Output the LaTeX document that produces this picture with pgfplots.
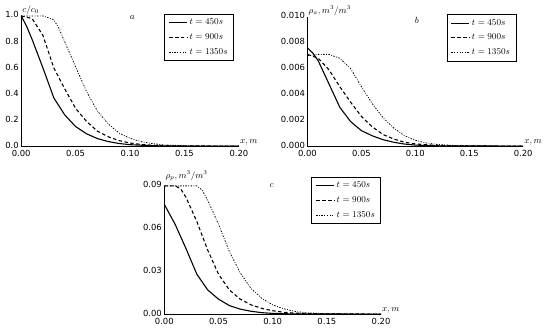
\documentclass[border=0pt]{standalone}
\usepackage{pgfplots}
\pgfplotsset{compat=1.18}
\usepackage{fontspec}
\setsansfont{DejaVu Sans}
\begin{document}
\pgfplotsset{
  panel/.style={
    scale only axis,
    width=218bp, height=130bp,
    axis lines*=left,
    xmin=0, xmax=0.2,
    xtick={0,0.05,0.1,0.15,0.2},
    tick label style={font=\sffamily\fontsize{8.5}{9}\selectfont},
    /pgf/number format/assume math mode=true,
    /pgf/number format/.cd, fixed, fixed zerofill, precision=2, /pgfplots/.cd,
    major tick length=0pt,
    xticklabel style={yshift=-0.5bp},
    yticklabel style={xshift=1bp, yshift=1bp},
    axis line style={line width=0.6pt},
    legend style={draw=black, line width=0.6pt, font=\fontsize{9}{9}\selectfont,
      inner xsep=4bp, inner ysep=3bp, row sep=3.5bp, cells={anchor=west}},
    legend cell align=left,
    legend image code/.code={\draw[line width=1.1pt,#1] (0bp,0bp) -- (18bp,0bp);},
    every axis plot/.append style={line width=1.1pt, black},
    clip=false,
  },
  s1/.style={solid},
  s2/.style={dash pattern=on 3.5pt off 2.5pt},
  s3/.style={dash pattern=on 1.5pt off 1.5pt on 0.8pt off 1.5pt, line width=0.8pt},
}
\begin{tikzpicture}[x=1bp,y=1bp]
\path[use as bounding box] (0,0) rectangle (550,330);
% panel a
\begin{axis}[panel, at={(18bp,183bp)}, anchor=south west, width=219bp, height=131bp,
  ymin=0, ymax=1.0, ytick={0,0.2,0.4,0.6,0.8,1.0},
  yticklabel style={/pgf/number format/precision=1},
  legend style={at={(0.977,1.015)}, anchor=north east}]
\addplot[s1] coordinates {(0,1.0) (0.005,0.92) (0.01,0.82) (0.02,0.6) (0.03,0.37) (0.04,0.24) (0.05,0.15) (0.06,0.095) (0.07,0.058) (0.08,0.035) (0.09,0.02) (0.10,0.011) (0.12,0.003) (0.15,0.0005) (0.2,0)};
\addplot[s2] coordinates {(0,1.0) (0.01,0.98) (0.02,0.85) (0.03,0.6) (0.04,0.44) (0.05,0.29) (0.06,0.19) (0.07,0.115) (0.08,0.072) (0.09,0.042) (0.10,0.024) (0.11,0.013) (0.12,0.007) (0.14,0.0015) (0.2,0)};
\addplot[s3] coordinates {(0,1.0) (0.01,1.0) (0.02,1.0) (0.03,0.97) (0.035,0.9) (0.04,0.8) (0.05,0.61) (0.06,0.42) (0.07,0.27) (0.08,0.17) (0.09,0.1) (0.10,0.06) (0.11,0.035) (0.12,0.02) (0.13,0.01) (0.15,0.003) (0.2,0)};
\legend{$t=450s$,$t=900s$,$t=1350s$}
\node[anchor=south west, font=\fontsize{9}{10}\selectfont, inner sep=1bp] at (rel axis cs:0,1) {$c/c_0$};
\node[anchor=west, font=\fontsize{9}{10}\selectfont, inner sep=1bp] at (rel axis cs:1,0.03) {$x,m$};
\node[font=\fontsize{9}{10}\selectfont] at (rel axis cs:0.51,0.99) {$a$};
\end{axis}
% panel b
\begin{axis}[panel, at={(306bp,183bp)}, anchor=south west, width=217bp, height=130bp,
  ymin=0, ymax=0.010, ytick={0,0.002,0.004,0.006,0.008,0.010},
  yticklabel style={/pgf/number format/precision=3},
  scaled y ticks=false,
  legend style={at={(0.968,1.02)}, anchor=north east}]
\addplot[s1] coordinates {(0,0.0076) (0.005,0.0072) (0.01,0.0066) (0.02,0.0048) (0.03,0.003) (0.04,0.0019) (0.05,0.0012) (0.06,0.0008) (0.07,0.0005) (0.08,0.0003) (0.09,0.00016) (0.10,0.00008) (0.12,0.00002) (0.2,0)};
\addplot[s2] coordinates {(0,0.0071) (0.01,0.0068) (0.02,0.0059) (0.03,0.0046) (0.04,0.0034) (0.05,0.0023) (0.06,0.0015) (0.07,0.0009) (0.08,0.00055) (0.09,0.0003) (0.1,0.00017) (0.12,0.00005) (0.14,0.00001) (0.2,0)};
\addplot[s3] coordinates {(0,0.0070) (0.01,0.0071) (0.02,0.0071) (0.03,0.0068) (0.04,0.006) (0.05,0.0046) (0.06,0.0033) (0.07,0.0022) (0.08,0.0014) (0.09,0.0008) (0.1,0.00045) (0.11,0.00025) (0.12,0.00013) (0.14,0.00003) (0.2,0)};
\legend{$t=450s$,$t=900s$,$t=1350s$}
\node[anchor=south west, font=\fontsize{9}{10}\selectfont, inner sep=1bp] at (rel axis cs:0,1) {$\rho_a,m^3/m^3$};
\node[anchor=west, font=\fontsize{9}{10}\selectfont, inner sep=1bp] at (rel axis cs:1,0.03) {$x,m$};
\node[font=\fontsize{9}{10}\selectfont] at (rel axis cs:0.507,0.97) {$b$};
\end{axis}
% panel c
\begin{axis}[panel, at={(162bp,14bp)}, anchor=south west, width=218bp, height=129bp,
  ymin=0, ymax=0.09, ytick={0,0.03,0.06,0.09},
  yticklabel style={/pgf/number format/precision=2},
  scaled y ticks=false,
  legend style={at={(1.0,1.07)}, anchor=north east}]
\addplot[s1] coordinates {(0,0.077) (0.01,0.063) (0.02,0.046) (0.03,0.028) (0.04,0.017) (0.05,0.0105) (0.06,0.006) (0.07,0.0035) (0.08,0.002) (0.09,0.001) (0.1,0.0005) (0.12,0.0001) (0.2,0)};
\addplot[s2] coordinates {(0,0.09) (0.01,0.09) (0.015,0.088) (0.02,0.082) (0.03,0.065) (0.04,0.045) (0.05,0.028) (0.06,0.017) (0.07,0.0105) (0.08,0.0065) (0.09,0.004) (0.1,0.0024) (0.11,0.0013) (0.12,0.0007) (0.14,0.0002) (0.2,0)};
\addplot[s3] coordinates {(0,0.09) (0.03,0.09) (0.035,0.087) (0.04,0.08) (0.05,0.063) (0.06,0.044) (0.07,0.029) (0.08,0.018) (0.09,0.011) (0.1,0.0065) (0.11,0.0038) (0.12,0.002) (0.13,0.001) (0.15,0.0003) (0.2,0)};
\legend{$t=450s$,$t=900s$,$t=1350s$}
\node[anchor=south west, font=\fontsize{9}{10}\selectfont, inner sep=1bp, yshift=4bp] at (rel axis cs:0,1) {$\rho_p,m^3/m^3$};
\node[anchor=west, font=\fontsize{9}{10}\selectfont, inner sep=1bp] at (rel axis cs:1,0.03) {$x,m$};
\node[font=\fontsize{9}{10}\selectfont] at (rel axis cs:0.495,1.0) {$c$};
\end{axis}
\end{tikzpicture}
\end{document}
